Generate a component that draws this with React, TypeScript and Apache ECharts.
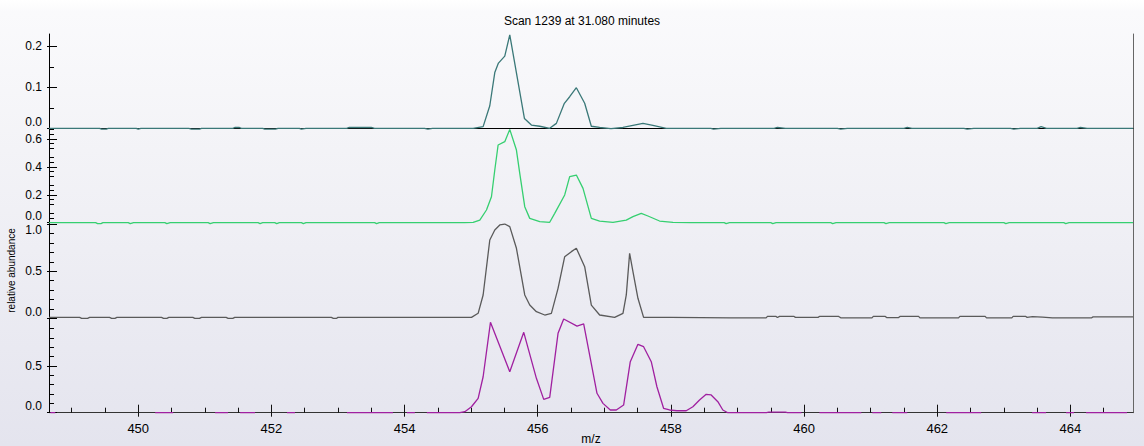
import React, { useEffect, useRef } from "react";
import * as echarts from "echarts";

const TITLE = "Scan 1239 at 31.080 minutes";
const X_NAME = "m/z";
const Y_NAME = "relative abundance";

const MZ_MIN = 448.66;
const MZ_MAX = 464.94;
const xMajorTicks = [450, 452, 454, 456, 458, 460, 462, 464];
const xMinorTicks = [449, 449.5, 450.5, 451, 451.5, 452.5, 453, 453.5, 454.5, 455, 455.5, 456.5, 457, 457.5, 458.5, 459, 459.5, 460.5, 461, 461.5, 462.5, 463, 463.5, 464.5];

const panelMax = [0.23, 0.677, 1.017, 1.011];
const panelMajorTicks = [
  [0, 0.1, 0.2],
  [0, 0.2, 0.4, 0.6],
  [0, 0.5, 1.0],
  [0, 0.5],
];
const panelMinorTicks = [
  [0.05, 0.15],
  [0.0333, 0.0667, 0.1333, 0.1667, 0.2333, 0.2667, 0.3333, 0.3667, 0.4333, 0.4667, 0.5333, 0.5667, 0.6333, 0.6667],
  [0.1, 0.2, 0.3, 0.4, 0.6, 0.7, 0.8, 0.9],
  [0.1, 0.2, 0.3, 0.4, 0.6, 0.7, 0.8, 0.9],
];

// Panel 1 (teal)
const trace1: [number, number][] = [
  [448.66, 0], [449.42, 0], [449.45, -0.002], [449.52, -0.002], [449.55, 0], [449.97, 0], [450.0, -0.002], [450.04, 0],
  [450.76, 0], [450.8, -0.002], [450.92, -0.002], [450.95, 0], [451.42, 0], [451.45, 0.002], [451.52, 0.002], [451.55, 0],
  [451.87, 0], [451.9, -0.002], [452.06, -0.002], [452.1, 0], [452.42, 0], [452.45, -0.002], [452.52, 0], [453.13, 0],
  [453.17, 0.002], [453.5, 0.002], [453.55, 0], [454.3, 0], [454.35, -0.002], [454.42, 0], [455.03, 0],
  [455.18, 0.004], [455.28, 0.055], [455.355, 0.136], [455.41, 0.159], [455.505, 0.176], [455.58, 0.228], [455.8, 0.024],
  [455.905, 0.008], [456.03, 0.005], [456.18, 0.0], [456.28, 0.012], [456.4, 0.061], [456.48, 0.077], [456.58, 0.099],
  [456.705, 0.061], [456.805, 0.005], [456.93, 0.002], [457.1, -0.001], [457.28, 0.002], [457.43, 0.007], [457.58, 0.012],
  [457.73, 0.007], [457.93, 0], [458.6, 0], [458.64, -0.002], [458.75, 0], [459.55, 0], [459.6, 0.002], [459.72, 0],
  [460.5, 0], [460.55, -0.002], [460.65, 0], [461.5, 0], [461.55, 0.002], [461.62, 0], [462.4, 0], [462.45, -0.002],
  [462.55, 0], [463.1, 0], [463.15, -0.002], [463.25, 0], [463.5, 0], [463.56, 0.004], [463.64, 0], [464.1, 0],
  [464.15, 0.002], [464.25, 0], [464.94, 0],
];

// Panel 2 (green)
const trace2: [number, number][] = [
  [448.66, 0], [449.36, 0], [449.39, -0.007], [449.44, -0.007], [449.47, 0], [449.85, 0], [449.88, -0.007], [449.93, 0],
  [450.4, 0], [450.43, -0.007], [450.48, 0], [451.05, 0], [451.08, -0.007], [451.13, 0], [451.8, 0], [451.83, -0.007],
  [451.87, 0], [452.05, 0], [452.08, -0.007], [452.12, 0], [452.45, 0], [452.48, -0.007], [452.52, 0], [453.55, 0],
  [453.58, -0.007], [453.62, 0], [454.9, 0], [455.03, 0.003], [455.13, 0.019], [455.23, 0.091], [455.305, 0.186],
  [455.355, 0.378], [455.405, 0.557], [455.505, 0.581], [455.58, 0.669], [455.68, 0.521], [455.73, 0.354], [455.805, 0.115],
  [455.88, 0.031], [456.03, 0.007], [456.18, 0.003], [456.255, 0.067], [456.405, 0.199], [456.48, 0.33], [456.58, 0.342],
  [456.68, 0.246], [456.805, 0.031], [456.93, 0.012], [457.13, 0.003], [457.33, 0.019], [457.43, 0.043], [457.555, 0.067],
  [457.655, 0.048], [457.83, 0.012], [458.03, 0.003], [458.3, 0], [458.8, 0], [458.83, -0.007], [458.88, 0], [459.5, 0],
  [459.53, -0.007], [459.58, 0], [460.4, 0], [460.43, -0.007], [460.48, 0], [461.2, 0], [461.23, -0.007], [461.28, 0],
  [462.1, 0], [462.13, -0.007], [462.18, 0], [463.0, 0], [463.03, -0.007], [463.08, 0], [463.9, 0], [463.93, -0.007],
  [463.98, 0], [464.94, 0],
];

// Panel 3 (grey)
const trace3: [number, number][] = [
  [448.66, 0.01], [449.12, 0.01], [449.15, 0], [449.24, 0], [449.27, 0.01], [449.57, 0.01], [449.6, 0], [449.65, 0],
  [449.68, 0.01], [450.35, 0.01], [450.38, 0], [450.43, 0], [450.46, 0.01], [450.82, 0.01], [450.85, 0], [450.92, 0],
  [450.95, 0.01], [451.32, 0.01], [451.35, 0], [451.42, 0], [451.45, 0.01], [452.9, 0.01], [452.93, 0], [452.98, 0],
  [453.0, 0.01], [455.005, 0.01], [455.105, 0.053], [455.18, 0.248], [455.28, 0.833], [455.355, 0.939], [455.43, 0.993],
  [455.505, 1.003], [455.58, 0.975], [455.68, 0.745], [455.805, 0.248], [455.88, 0.141], [455.98, 0.07], [456.105, 0.035],
  [456.205, 0.053], [456.305, 0.319], [456.405, 0.655], [456.505, 0.709], [456.58, 0.745], [456.705, 0.549], [456.805, 0.141],
  [456.93, 0.035], [457.155, 0.01], [457.28, 0.053], [457.33, 0.248], [457.38, 0.691], [457.43, 0.496], [457.505, 0.213],
  [457.59, 0.01], [458.0, 0.01], [458.9, 0.005], [459.43, 0.005], [459.45, 0.02], [459.58, 0.02], [459.6, 0.008],
  [459.63, 0.02], [459.85, 0.02], [459.87, 0.01], [460.21, 0.01], [460.23, 0.02], [460.52, 0.02], [460.55, 0.005],
  [461.02, 0.005], [461.04, 0.02], [461.22, 0.02], [461.24, 0.008], [461.42, 0.008], [461.44, 0.02], [461.72, 0.02],
  [461.74, 0.005], [462.32, 0.005], [462.34, 0.02], [462.72, 0.02], [462.74, 0.005], [463.12, 0.005], [463.14, 0.02],
  [463.33, 0.02], [463.35, 0.01], [463.43, 0.017], [463.58, 0.012], [463.73, 0.005], [464.32, 0.005], [464.34, 0.015],
  [464.94, 0.015],
];

// Panel 4 (purple): stretches that sit on the baseline, then the peak cluster
const purpleRunsLeft: [number, number][] = [
  [448.68, 448.755], [450.255, 450.525], [451.155, 451.35], [451.53, 451.755], [452.235, 452.355], [453.135, 453.825], [454.035, 454.155],
];
const trace4: [number, number][] = [
  [454.335, 0], [454.83, 0], [454.905, 0.011], [455.005, 0.064], [455.105, 0.154], [455.18, 0.385], [455.29, 0.968],
  [455.58, 0.439], [455.79, 0.861], [455.98, 0.368], [456.09, 0.143], [456.18, 0.165], [456.305, 0.85], [456.39, 1.003],
  [456.59, 0.928], [456.69, 0.95], [456.89, 0.208], [456.98, 0.1], [457.09, 0.029], [457.18, 0.029], [457.29, 0.082],
  [457.39, 0.546], [457.505, 0.732], [457.59, 0.707], [457.705, 0.546], [457.79, 0.278], [457.89, 0.047], [457.98, 0.029],
  [458.09, 0.021], [458.23, 0.021], [458.33, 0.064], [458.43, 0.136], [458.53, 0.197], [458.605, 0.19], [458.705, 0.118],
  [458.78, 0.029], [458.855, 0], [459.435, 0], [459.47, 0.006], [459.72, 0.006], [459.75, 0], [459.96, 0],
];
const purpleRunsRight: [number, number][] = [
  [460.23, 460.86], [461.025, 461.16], [461.325, 461.55], [462.135, 462.66], [463.425, 463.635], [463.935, 464.055], [464.235, 464.85],
];

const traceColors = ["#3a7878", "#35cf70", "#5a5a5a", "#a020a0"];

function buildPurple(): any[] {
  const out: any[] = [];
  for (const [s, e] of purpleRunsLeft) {
    out.push([s, 0], [e, 0], [e, "-"]);
  }
  for (const p of trace4) out.push(p);
  out.push([trace4[trace4.length - 1][0], "-"]);
  for (const [s, e] of purpleRunsRight) {
    out.push([s, 0], [e, 0], [e, "-"]);
  }
  return out;
}

const FONT = "'Liberation Sans', Arial, sans-serif";
const YFS = 12;

export default function App() {
  const ref = useRef<HTMLDivElement>(null);
  useEffect(() => {
    if (!ref.current) return;
    const chart = echarts.init(ref.current, undefined, { renderer: "svg" });
    const gridTops = [34, 128.3, 222.7, 318.3];
    const gridHeights = [94.3, 94.4, 95.6, 94.4];
    const grids = gridTops.map((t, i) => ({ left: 49, right: 11, top: t, height: gridHeights[i] }));

    const xAxes: any[] = [];
    for (let i = 0; i < 4; i++) {
      xAxes.push({
        type: "value",
        gridIndex: i,
        min: MZ_MIN,
        max: MZ_MAX,
        position: i === 0 ? "top" : "bottom",
        show: i === 0 || i === 3,
        axisLine: { show: true, lineStyle: { color: i === 0 ? "#000" : "#333", width: 1 } },
        axisTick: i === 3 ? { show: true, inside: true, length: 8, customValues: xMajorTicks, lineStyle: { color: "#111" } } : { show: false },
        axisLabel: i === 3
          ? { show: true, customValues: xMajorTicks, margin: 9, color: "#000", fontSize: 13, fontFamily: FONT, formatter: (v: number) => String(v) }
          : { show: false },
        splitLine: { show: false },
      });
    }
    xAxes.push({
      type: "value", gridIndex: 3, min: MZ_MIN, max: MZ_MAX, position: "bottom",
      axisLine: { show: false },
      axisTick: { show: true, inside: false, length: 4, customValues: xMajorTicks, lineStyle: { color: "#111" } },
      axisLabel: { show: false }, splitLine: { show: false },
    });
    xAxes.push({
      type: "value", gridIndex: 3, min: MZ_MIN, max: MZ_MAX, position: "bottom",
      axisLine: { show: false },
      axisTick: { show: true, inside: true, length: 5, customValues: xMinorTicks, lineStyle: { color: "#111" } },
      axisLabel: { show: false }, splitLine: { show: false },
    });

    const yAxes: any[] = [];
    for (let i = 0; i < 4; i++) {
      const major = panelMajorTicks[i];
      yAxes.push({
        type: "value",
        gridIndex: i,
        position: "left",
        min: 0,
        max: panelMax[i],
        axisLine: { show: true, lineStyle: { color: "#000", width: 1 } },
        axisTick: { show: true, inside: true, length: 8, customValues: major, lineStyle: { color: "#000" } },
        axisLabel: {
          show: true,
          customValues: major,
          margin: 7,
          color: "#000",
          fontSize: YFS,
          lineHeight: 11,
          fontFamily: FONT,
          formatter: (v: number) => {
            const s = v.toFixed(1);
            if (v === 0) return `{up|${s}}`;
            if (i === 2 && v === 1) return `{down|${s}}`;
            return `{n|${s}}`;
          },
          rich: {
            n: { fontSize: YFS, lineHeight: 11, fontFamily: FONT, color: "#000" },
            up: { padding: [0, 0, 13, 0], fontSize: YFS, lineHeight: 11, fontFamily: FONT, color: "#000" },
            down: { padding: [11, 0, 0, 0], fontSize: YFS, lineHeight: 11, fontFamily: FONT, color: "#000" },
          },
        },
        splitLine: { show: false },
      });
      yAxes.push({
        type: "value", gridIndex: i, position: "left", min: 0, max: panelMax[i],
        axisLine: { show: false },
        axisTick: { show: true, inside: false, length: 2, customValues: major, lineStyle: { color: "#000" } },
        axisLabel: { show: false }, splitLine: { show: false },
      });
      yAxes.push({
        type: "value", gridIndex: i, position: "left", min: 0, max: panelMax[i],
        axisLine: { show: false },
        axisTick: { show: true, inside: true, length: 5, customValues: panelMinorTicks[i], lineStyle: { color: "#000" } },
        axisLabel: { show: false }, splitLine: { show: false },
      });
      yAxes.push({
        type: "value", gridIndex: i, position: "right", min: 0, max: panelMax[i],
        axisLine: { show: true, lineStyle: { color: "#666", width: 1 } },
        axisTick: { show: false }, axisLabel: { show: false }, splitLine: { show: false },
      });
    }

    const traces = [trace1, trace2, trace3, buildPurple()];
    const series = traces.map((d, i) => ({
      type: "line",
      xAxisIndex: i,
      yAxisIndex: i * 4,
      data: d,
      showSymbol: false,
      symbol: "none",
      clip: false,
      connectNulls: false,
      lineStyle: { color: traceColors[i], width: 1.3 },
      z: 3,
    }));

    chart.setOption({
      animation: false,
      backgroundColor: "transparent",
      grid: grids,
      xAxis: xAxes,
      yAxis: yAxes,
      series,
      graphic: [
        { type: "text", x: 582, y: 21, style: { text: TITLE, textAlign: "center", textVerticalAlign: "middle", fontSize: 12, fontFamily: FONT, fill: "#000" } },
        { type: "text", x: 591, y: 433, style: { text: X_NAME, textAlign: "center", textVerticalAlign: "top", fontSize: 12, fontFamily: FONT, fill: "#000" } },
        { type: "text", x: 11.5, y: 270.5, rotation: Math.PI / 2, style: { text: Y_NAME, textAlign: "center", textVerticalAlign: "middle", fontSize: 10, fontFamily: FONT, fill: "#000" } },
      ],
    });
    return () => chart.dispose();
  }, []);

  return (
    <div
      ref={ref}
      style={{
        position: "fixed",
        left: 0,
        top: 0,
        width: 1144,
        height: 446,
        background: "linear-gradient(to bottom, #ffffff 0px, #fafafc 12px, #f3f3f7 150px, #e4e4ee 446px)",
      }}
    />
  );
}
